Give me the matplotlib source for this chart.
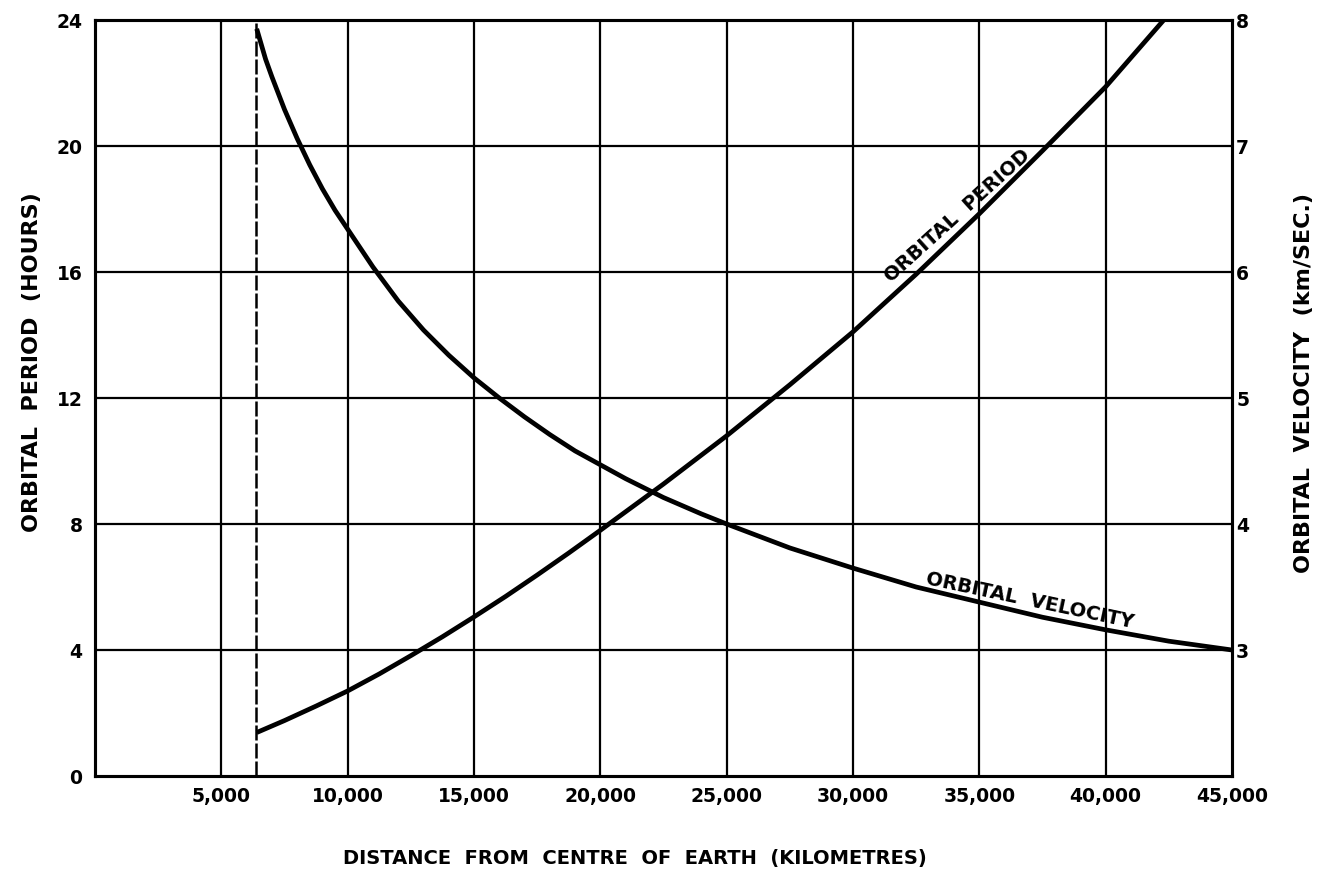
import matplotlib
matplotlib.use('Agg')
import matplotlib.pyplot as plt

# values
dist_period = [6400, 7500, 8750, 10000, 11250, 12500, 13750, 15000, 16250,
               17500, 18750, 20000, 22500, 25000, 27500, 30000, 32500,
               35000, 37500, 40000, 42300]
period_hours = [1.38, 1.76, 2.22, 2.70, 3.24, 3.82, 4.42, 5.05, 5.70,
                6.38, 7.08, 7.80, 9.27, 10.80, 12.42, 14.10, 15.93,
                17.85, 19.85, 21.88, 24.0]

dist_velocity = [6400, 6750, 7000, 7500, 8000, 8500, 9000, 9500, 10000,
                 11000, 12000, 13000, 14000, 15000, 16000, 17000, 18000,
                 19000, 20000, 21000, 22500, 24000, 25000, 27500, 30000,
                 32500, 35000, 37500, 40000, 42500, 45000]
velocity_kms = [7.93, 7.69, 7.55, 7.29, 7.06, 6.85, 6.66, 6.49, 6.34,
                6.04, 5.77, 5.54, 5.34, 5.16, 5.00, 4.85, 4.71,
                4.58, 4.47, 4.36, 4.21, 4.08, 4.00, 3.81, 3.65,
                3.50, 3.38, 3.26, 3.16, 3.07, 3.00]

earth_radius = 6378
x_ticks = [5000, 10000, 15000, 20000, 25000, 30000, 35000, 40000, 45000]
hour_ticks = [0, 4, 8, 12, 16, 20, 24]
vel_ticks = [3, 4, 5, 6, 7, 8]

plt.rcParams['font.family'] = ['DejaVu Sans']
plt.rcParams['font.weight'] = 'bold'

W, H = 1323, 888
fig = plt.figure(figsize=(W / 100, H / 100), dpi=100)
ax = fig.add_axes([95 / W, 1 - 776 / H, 1137 / W, 756 / H])
ax2 = ax.twinx()

ax.set_xlim(0, 45000)
ax.set_ylim(0, 24)
ax2.set_ylim(2, 8)

# grid
for x in x_ticks[:-1]:
    ax.axvline(x, color='black', lw=1.6, zorder=1)
for y in hour_ticks[1:-1]:
    ax.axhline(y, color='black', lw=1.6, zorder=1)

# earth surface
ax.plot([earth_radius, earth_radius], [0, 24], color='black', lw=1.8,
        dashes=(6, 1.2), zorder=2)

ax.plot(dist_period, period_hours, color='black', lw=3.4, zorder=3,
        solid_capstyle='butt', solid_joinstyle='round')
ax2.plot(dist_velocity, velocity_kms, color='black', lw=3.4, zorder=3,
         solid_capstyle='butt', solid_joinstyle='round')

for sp in list(ax.spines.values()) + list(ax2.spines.values()):
    sp.set_linewidth(2.2)

ax.set_xticks(x_ticks)
ax.set_xticklabels([f'{v:,}' for v in x_ticks], fontsize=13.5)
ax.set_yticks(hour_ticks)
ax.set_yticklabels([str(v) for v in hour_ticks], fontsize=13.5)
ax2.set_yticks(vel_ticks)
ax2.set_yticklabels([str(v) for v in vel_ticks], fontsize=13.5)
ax.tick_params(axis='x', length=0, pad=8)
ax.tick_params(axis='y', length=0, pad=9)
ax2.tick_params(axis='y', length=0, pad=3)

fig.text(635 / W, 1 - 858 / H, 'DISTANCE  FROM  CENTRE  OF  EARTH  (KILOMETRES)',
         fontsize=14, ha='center', va='center')
fig.text(32 / W, 1 - 362 / H, 'ORBITAL  PERIOD  (HOURS)', fontsize=16,
         rotation=90, ha='center', va='center')
fig.text(1304 / W, 1 - 383 / H, 'ORBITAL  VELOCITY  (km/SEC.)', fontsize=16,
         rotation=90, ha='center', va='center')

ax.text(34150, 17.78, 'ORBITAL  PERIOD', rotation=42, fontsize=14,
        ha='center', va='center', zorder=4)
ax.text(37000, 5.56, 'ORBITAL  VELOCITY', rotation=-12, fontsize=14,
        ha='center', va='center', zorder=4)

fig.savefig('out.png', dpi=100)
